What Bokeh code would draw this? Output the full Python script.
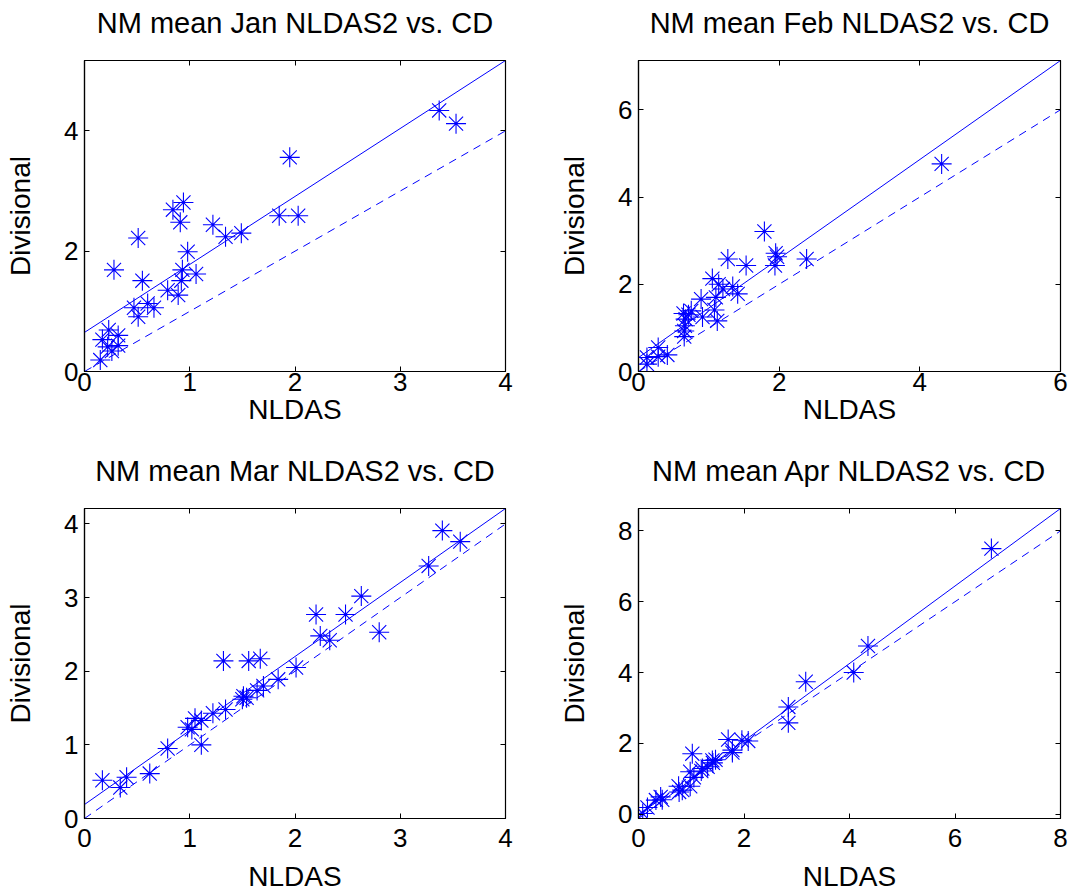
import numpy as np
from bokeh.plotting import figure
from bokeh.layouts import gridplot
from bokeh.models import LinearAxis, FixedTicker, CustomJSTickFormatter, Range1d
from bokeh.embed import file_html
from bokeh.resources import INLINE

# ---------------- data ----------------
months = ["Jan", "Feb", "Mar", "Apr"]

jan_x = [3.37, 3.53, 1.95, 0.94, 0.84, 0.91, 1.22, 1.34, 1.49, 1.85, 2.03, 0.51, 0.98, 0.28,
         0.93, 1.06, 0.55, 0.92, 0.79, 0.89, 0.47, 0.60, 0.66, 0.51, 0.23, 0.32, 0.17, 0.22,
         0.26, 0.32, 0.15]
jan_y = [4.34, 4.12, 3.56, 2.81, 2.69, 2.48, 2.44, 2.24, 2.30, 2.59, 2.59, 2.22, 1.99, 1.69,
         1.69, 1.62, 1.51, 1.51, 1.35, 1.27, 1.06, 1.13, 1.06, 0.91, 0.69, 0.60, 0.53, 0.41,
         0.34, 0.43, 0.19]

feb_x = [4.31, 1.79, 1.27, 1.53, 1.95, 1.97, 1.94, 2.39, 1.05, 1.14, 1.34, 1.20, 1.41, 1.10,
         0.89, 0.75, 0.64, 0.91, 1.08, 1.12, 0.67, 0.66, 0.65, 0.71, 0.28, 0.41, 0.28, 0.12,
         0.12, 0.65]
feb_y = [4.76, 3.21, 2.58, 2.43, 2.71, 2.63, 2.43, 2.58, 2.13, 2.00, 1.95, 1.89, 1.78, 1.70,
         1.66, 1.39, 1.33, 1.25, 1.41, 1.16, 1.20, 1.05, 0.80, 1.30, 0.55, 0.38, 0.34, 0.32,
         0.17, 0.93]

mar_x = [3.40, 3.57, 3.27, 2.63, 2.20, 2.48, 2.80, 2.24, 2.33, 1.32, 1.56, 1.67, 2.01, 1.84,
         1.70, 1.64, 1.51, 1.50, 1.54, 1.34, 1.22, 1.11, 1.05, 0.98, 1.02, 1.11, 0.79, 0.62,
         0.40, 0.34, 0.17]
mar_y = [3.91, 3.76, 3.43, 3.02, 2.77, 2.77, 2.53, 2.48, 2.42, 2.14, 2.14, 2.17, 2.05, 1.89,
         1.80, 1.74, 1.66, 1.62, 1.64, 1.48, 1.43, 1.33, 1.36, 1.24, 1.21, 1.00, 0.95, 0.61,
         0.56, 0.42, 0.52]

apr_x = [6.69, 4.35, 4.08, 3.17, 2.84, 2.84, 2.08, 1.96, 1.70, 1.78, 1.78, 1.02, 1.46, 1.41,
         1.31, 1.19, 0.98, 1.05, 0.76, 0.83, 0.98, 0.42, 0.45, 0.33, 0.17, 0.08, 0.77, 1.40,
         1.21]
apr_y = [7.50, 4.75, 4.00, 3.74, 3.03, 2.58, 2.07, 2.09, 2.11, 1.74, 1.81, 1.71, 1.54, 1.45,
         1.34, 1.22, 1.20, 1.04, 0.79, 0.68, 0.79, 0.49, 0.41, 0.40, 0.19, 0.02, 0.63, 1.52,
         1.29]

# fitted line (solid) intercept / slope per month
fit_intercept = [0.65, 0.32, 0.19, -0.12]
fit_slope = [1.13, 1.135, 1.005, 1.094]

x_max = [4, 6, 4, 8]
x_ticks = [[0, 1, 2, 3, 4], [0, 2, 4, 6], [0, 1, 2, 3, 4], [0, 2, 4, 6, 8]]
y_ticks = [[0, 2, 4], [0, 2, 4, 6], [0, 1, 2, 3, 4], [0, 2, 4, 6, 8]]

xs_all = [jan_x, feb_x, mar_x, apr_x]
ys_all = [jan_y, feb_y, mar_y, apr_y]

# ---------------- styling ----------------
FONT = "Liberation Sans"
BLUE = "#0000ff"

borders = [  # left, right, top, bottom
    (84, 31, 60, 76),
    (102, 12, 60, 76),
    (84, 31, 61, 76),
    (102, 12, 61, 76),
]
xstand = [(1, 0), (1, 0), (10, 11), (10, 11)]  # (tick label standoff, axis label standoff)


def make_panel(i):
    xm = x_max[i]
    b = fit_intercept[i]
    m = fit_slope[i]
    ytop = b + m * xm
    ybot = min(0.0, b)
    left, right, top, bottom = borders[i]
    p = figure(width=536, height=447, output_backend="svg", toolbar_location=None,
               x_range=Range1d(0, xm), y_range=Range1d(ybot, ytop),
               min_border_left=left, min_border_right=right,
               min_border_top=top, min_border_bottom=bottom)
    p.grid.visible = False
    p.outline_line_color = "black"
    p.outline_line_width = 1.2
    p.background_fill_color = "white"
    p.border_fill_color = "white"

    p.xaxis.ticker = FixedTicker(ticks=x_ticks[i])
    p.yaxis.ticker = FixedTicker(ticks=y_ticks[i])
    p.xaxis.axis_label = "NLDAS"
    p.yaxis.axis_label = "Divisional"
    for ax in (p.xaxis[0], p.yaxis[0]):
        ax.minor_tick_line_color = None
        ax.major_tick_in = 5
        ax.major_tick_out = 0
        ax.axis_line_color = "black"
        ax.axis_line_width = 1.2
        ax.major_label_text_font = FONT
        ax.major_label_text_font_size = "26px"
        ax.major_label_text_color = "black"
        ax.axis_label_text_font = FONT
        ax.axis_label_text_font_size = "28px"
        ax.axis_label_text_font_style = "normal"
        ax.axis_label_text_color = "black"
    p.xaxis.major_label_standoff = xstand[i][0]
    p.xaxis.axis_label_standoff = xstand[i][1]
    p.yaxis.major_label_standoff = 6
    p.yaxis.axis_label_standoff = 25

    # box ticks on top/right; the top axis also carries the panel title
    for side, tk in (("above", x_ticks[i]), ("right", y_ticks[i])):
        ax = LinearAxis(ticker=FixedTicker(ticks=tk),
                        formatter=CustomJSTickFormatter(code="return ''"))
        ax.major_tick_in = 5
        ax.major_tick_out = 0
        ax.minor_tick_line_color = None
        ax.major_label_standoff = 0
        ax.major_label_text_font_size = "0px"
        ax.axis_line_color = "black"
        if side == "above":
            ax.axis_label = "NM mean %s NLDAS2 vs. CD" % months[i]
            ax.axis_label_text_font = FONT
            ax.axis_label_text_font_size = "29px"
            ax.axis_label_text_font_style = "normal"
            ax.axis_label_text_color = "black"
            ax.axis_label_standoff = 22
        p.add_layout(ax, side)

    xl = np.array([0.0, xm])
    p.line(xl, b + m * xl, line_color=BLUE, line_width=1)
    p.line(xl, xl, line_color=BLUE, line_width=1, line_dash="8 6")
    p.scatter(xs_all[i], ys_all[i], marker="asterisk", size=20,
              line_color=BLUE, line_width=1.1)
    return p


panels = [make_panel(i) for i in range(4)]
grid = gridplot([[panels[0], panels[1]], [panels[2], panels[3]]], toolbar_location=None)

open("out.html", "w").write(file_html(grid, INLINE))
